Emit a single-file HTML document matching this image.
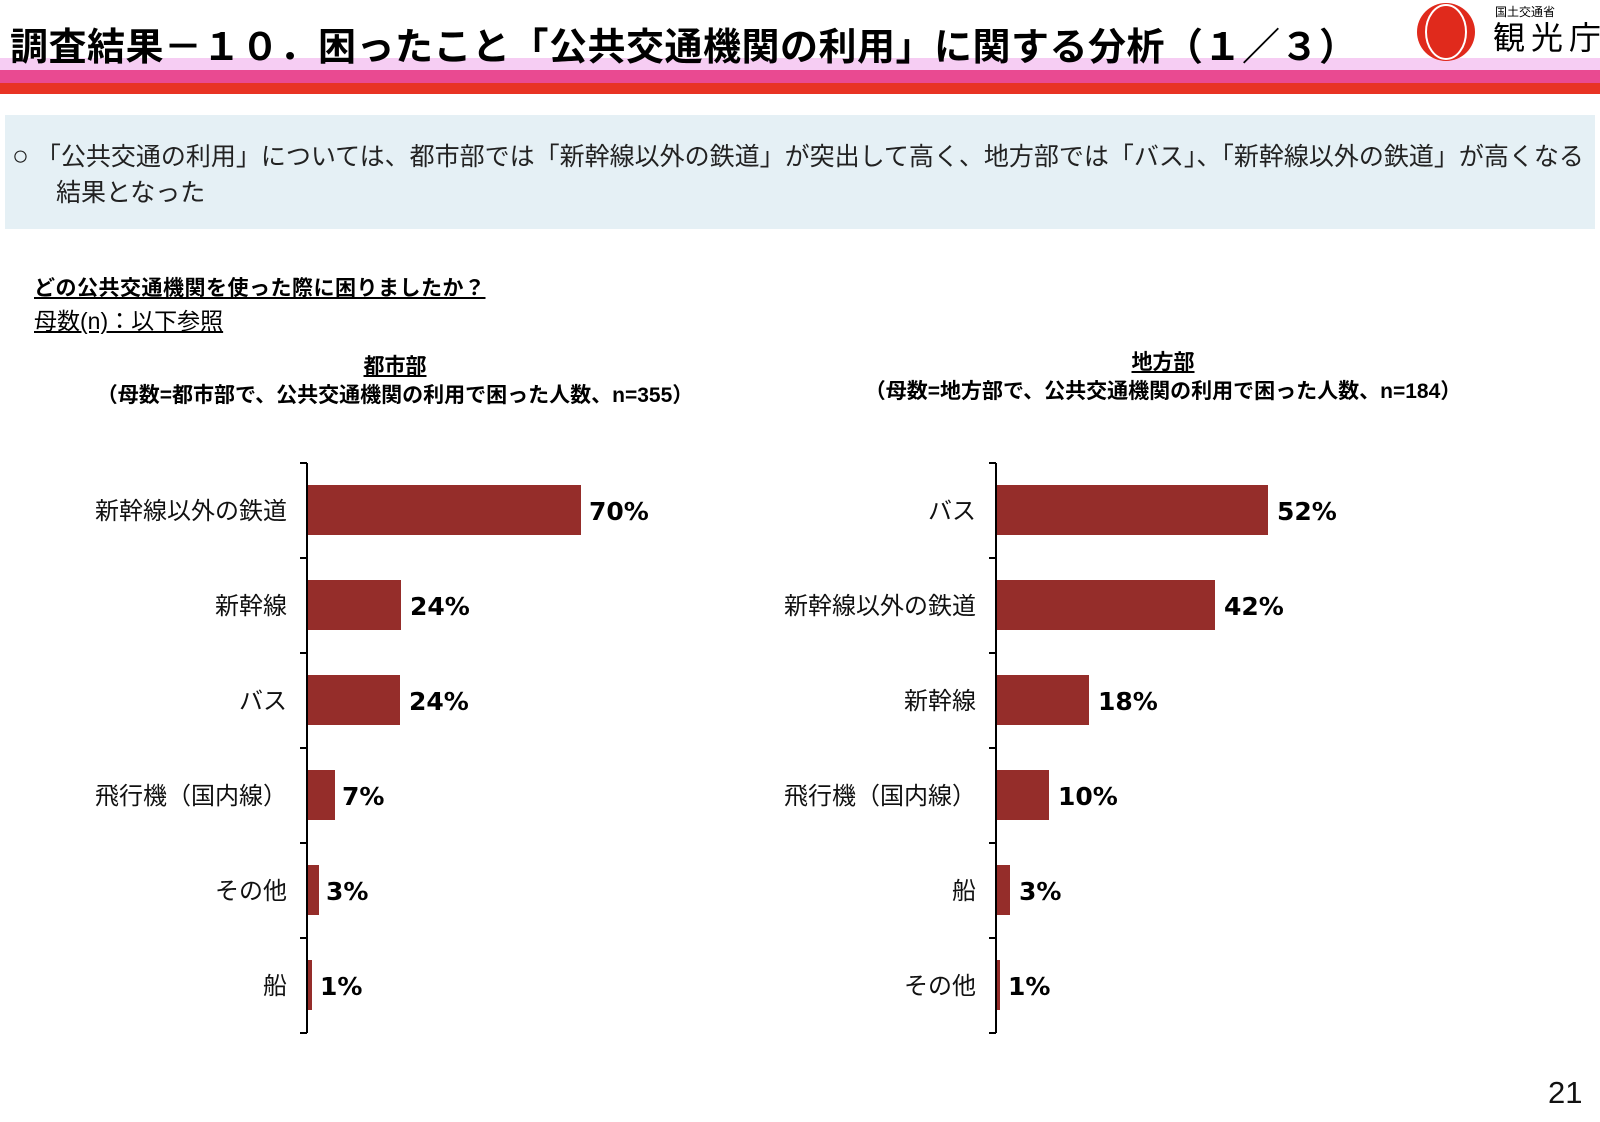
<!DOCTYPE html>
<html><head><meta charset="utf-8"><style>
body{margin:0;width:1600px;height:1122px;background:#fff;position:relative;overflow:hidden;font-family:"Liberation Sans","Noto Sans CJK JP",sans-serif;color:#000}
.a{position:absolute;white-space:nowrap}
</style></head><body>
<div class="a" style="left:0;top:58px;width:1600px;height:12px;background:#f6cdf3"></div>
<div class="a" style="left:0;top:70px;width:1600px;height:13px;background:#e94a91"></div>
<div class="a" style="left:0;top:83px;width:1600px;height:11px;background:#e83324"></div>
<div class="a" style="left:1378px;top:0;width:222px;height:58px;background:#fff"></div>
<div class="a" style="left:10px;top:23px;font-size:38px;font-weight:bold;line-height:50px;letter-spacing:0.5px">調査結果－１０．困ったこと「公共交通機関の利用」に関する分析（１／３）</div>
<svg class="a" style="left:1415px;top:2px" width="62" height="60"><circle cx="31" cy="30" r="29" fill="#e02a1c"/><ellipse cx="31" cy="30" rx="20" ry="27" fill="none" stroke="#fff" stroke-width="2"/></svg>
<div class="a" style="left:1495px;top:3px;font-size:12px">国土交通省</div>
<div class="a" style="left:1493px;top:20px;font-size:32px;letter-spacing:6px;line-height:36px">観光庁</div>
<div class="a" style="left:5px;top:115px;width:1590px;height:114px;background:#e5f0f5"></div>
<div class="a" style="left:12px;top:138px;font-size:25px;line-height:36px;color:#222"><span style="font-size:28px">○</span> 「公共交通の利用」については、都市部では「新幹線以外の鉄道」が突出して高く、地方部では「バス」、「新幹線以外の鉄道」が高くなる<br><span style="padding-left:44px">結果となった</span></div>
<div class="a" style="left:34px;top:272px;font-size:21px;font-weight:bold;text-decoration:underline;letter-spacing:0.5px">どの公共交通機関を使った際に困りましたか？</div>
<div class="a" style="left:34px;top:302px;font-size:23px;text-decoration:underline">母数(n)：以下参照</div>
<div class="a" style="left:95px;width:600px;top:352px;text-align:center;font-size:21px;font-weight:bold;line-height:29px"><u>都市部</u><br>（母数=都市部で、公共交通機関の利用で困った人数、n=355）</div>
<div class="a" style="left:863px;width:600px;top:348px;text-align:center;font-size:21px;font-weight:bold;line-height:29px"><u>地方部</u><br>（母数=地方部で、公共交通機関の利用で困った人数、n=184）</div>
<svg class="a" style="left:0;top:0" width="1600" height="1122" font-family="Liberation Sans, Noto Sans CJK JP, sans-serif">
<g fill="#952d2a">
<rect x="308" y="485" width="273" height="50"/>
<rect x="308" y="580" width="93" height="50"/>
<rect x="308" y="675" width="92" height="50"/>
<rect x="308" y="770" width="27" height="50"/>
<rect x="308" y="865" width="11" height="50"/>
<rect x="308" y="960" width="4" height="50"/>
<rect x="997" y="485" width="271" height="50"/>
<rect x="997" y="580" width="218" height="50"/>
<rect x="997" y="675" width="92" height="50"/>
<rect x="997" y="770" width="52" height="50"/>
<rect x="997" y="865" width="13" height="50"/>
<rect x="997" y="960" width="3" height="50"/>
</g>
<g stroke="#000" stroke-width="2" fill="none">
<path d="M307 463V1033M300 463H307M300 558H307M300 653H307M300 748H307M300 843H307M300 938H307M300 1033H307"/>
<path d="M996 463V1033M989 463H996M989 558H996M989 653H996M989 748H996M989 843H996M989 938H996M989 1033H996"/>
</g>
<g font-size="24" text-anchor="end" fill="#111">
<text x="287" y="519">新幹線以外の鉄道</text><text x="287" y="614">新幹線</text><text x="287" y="709">バス</text><text x="287" y="804">飛行機（国内線）</text><text x="287" y="899">その他</text><text x="287" y="994">船</text>
<text x="976" y="519">バス</text><text x="976" y="614">新幹線以外の鉄道</text><text x="976" y="709">新幹線</text><text x="976" y="804">飛行機（国内線）</text><text x="976" y="899">船</text><text x="976" y="994">その他</text>
</g>
<g font-size="25" font-weight="bold" font-family="DejaVu Sans, sans-serif">
<text x="589" y="520">70%</text><text x="410" y="615">24%</text><text x="409" y="710">24%</text><text x="342" y="805">7%</text><text x="326" y="900">3%</text><text x="320" y="995">1%</text>
<text x="1277" y="520">52%</text><text x="1224" y="615">42%</text><text x="1098" y="710">18%</text><text x="1058" y="805">10%</text><text x="1019" y="900">3%</text><text x="1008" y="995">1%</text>
</g>
<text x="1548" y="1103" font-size="31" fill="#111">21</text>
</svg>
</body></html>
